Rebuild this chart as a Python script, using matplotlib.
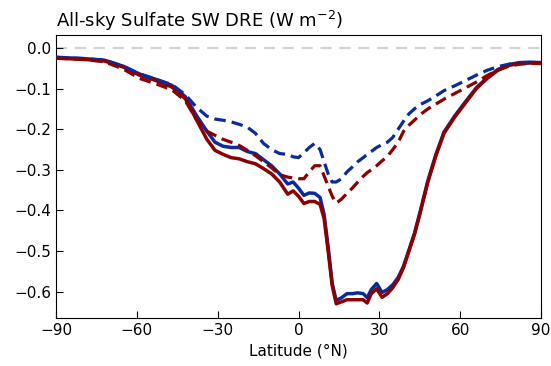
import matplotlib
matplotlib.use("Agg")
import matplotlib.pyplot as plt
import numpy as np

lats = [-90, -80, -72, -65, -59, -53, -47, -42, -38, -34, -31, -28, -25, -22, -19, -16, -13, -10, -7, -4, -2, 0,
        2, 4, 6, 8, 9.5, 11, 12.5, 14, 16, 18, 20, 22, 24, 25.5, 27, 29, 31, 33, 35, 37, 39, 41, 43, 45, 48, 51,
        54, 58, 62, 66, 70, 74, 78, 82, 86, 90]

red_solid = [-0.025, -0.028, -0.032, -0.047, -0.067, -0.080, -0.096, -0.125, -0.175, -0.225, -0.252, -0.262,
             -0.270, -0.273, -0.280, -0.285, -0.297, -0.310, -0.330, -0.360, -0.352, -0.365,
             -0.383, -0.378, -0.378, -0.385, -0.420, -0.500, -0.585, -0.630, -0.625, -0.620, -0.620, -0.620,
             -0.620, -0.628, -0.605, -0.593, -0.614, -0.605, -0.590, -0.570, -0.540, -0.500, -0.460, -0.410,
             -0.330, -0.265, -0.210, -0.170, -0.135, -0.100, -0.075, -0.055, -0.043, -0.038, -0.037, -0.038]

blue_solid = [-0.023, -0.026, -0.030, -0.045, -0.064, -0.077, -0.092, -0.120, -0.165, -0.205, -0.232, -0.242,
              -0.245, -0.245, -0.255, -0.260, -0.275, -0.290, -0.310, -0.335, -0.330, -0.345,
              -0.363, -0.357, -0.358, -0.368, -0.410, -0.490, -0.580, -0.622, -0.615, -0.605, -0.605, -0.603,
              -0.605, -0.615, -0.595, -0.580, -0.602, -0.595, -0.583, -0.565, -0.537, -0.497, -0.457, -0.407,
              -0.327, -0.262, -0.207, -0.167, -0.132, -0.098, -0.073, -0.053, -0.041, -0.036, -0.035, -0.036]

blue_dashed = [-0.023, -0.026, -0.030, -0.045, -0.064, -0.077, -0.090, -0.115, -0.145, -0.168, -0.175, -0.178,
               -0.182, -0.188, -0.195, -0.210, -0.235, -0.250, -0.260, -0.262, -0.268, -0.270,
               -0.258, -0.245, -0.235, -0.250, -0.280, -0.310, -0.330, -0.330, -0.322, -0.305, -0.293, -0.280,
               -0.270, -0.262, -0.255, -0.245, -0.238, -0.232, -0.220, -0.200, -0.180, -0.162, -0.150, -0.140,
               -0.130, -0.118, -0.105, -0.093, -0.080, -0.067, -0.055, -0.046, -0.040, -0.037, -0.037, -0.038]

red_dashed = [-0.025, -0.028, -0.034, -0.052, -0.075, -0.088, -0.103, -0.130, -0.175, -0.205, -0.215, -0.225,
              -0.232, -0.240, -0.252, -0.265, -0.280, -0.295, -0.312, -0.318, -0.320, -0.322,
              -0.322, -0.305, -0.290, -0.290, -0.315, -0.340, -0.365, -0.382, -0.372, -0.358, -0.345, -0.330,
              -0.316, -0.307, -0.300, -0.290, -0.278, -0.267, -0.250, -0.232, -0.205, -0.190, -0.178, -0.165,
              -0.150, -0.138, -0.126, -0.112, -0.098, -0.084, -0.068, -0.054, -0.045, -0.040, -0.038, -0.038]

xticks = [-90, -60, -30, 0, 30, 60, 90]
yticks = [0.0, -0.1, -0.2, -0.3, -0.4, -0.5, -0.6]

BLUE = '#0b2a9c'
RED = '#8b0000'

fig = plt.figure(figsize=(5.51, 3.66), dpi=100)
ax = fig.add_axes([0.1016, 0.1311, 0.8803, 0.7733])

ax.axhline(0, color='#d3d3d3', lw=1.6, ls=(0, (5, 3.5)), zorder=1)
ax.plot(lats, blue_solid, color=BLUE, lw=2.5, zorder=3)
ax.plot(lats, red_solid, color=RED, lw=2.5, zorder=3)
ax.plot(lats, blue_dashed, color=BLUE, lw=2.3, ls=(0, (3.6, 1.9)), zorder=4)
ax.plot(lats, red_dashed, color=RED, lw=2.3, ls=(0, (3.6, 1.9)), zorder=4)

ax.set_xlim(-90, 90)
ax.set_ylim(-0.665, 0.032)
ax.set_xticks(xticks)
ax.set_yticks(yticks)
ax.tick_params(direction='in', length=5, labelsize=11, top=False, right=False)
ax.set_xlabel('Latitude (°N)', fontsize=11)
ax.set_title('All-sky Sulfate SW DRE (W m$^{-2}$)', loc='left', fontsize=13)

fig.savefig('out.png', dpi=100)
